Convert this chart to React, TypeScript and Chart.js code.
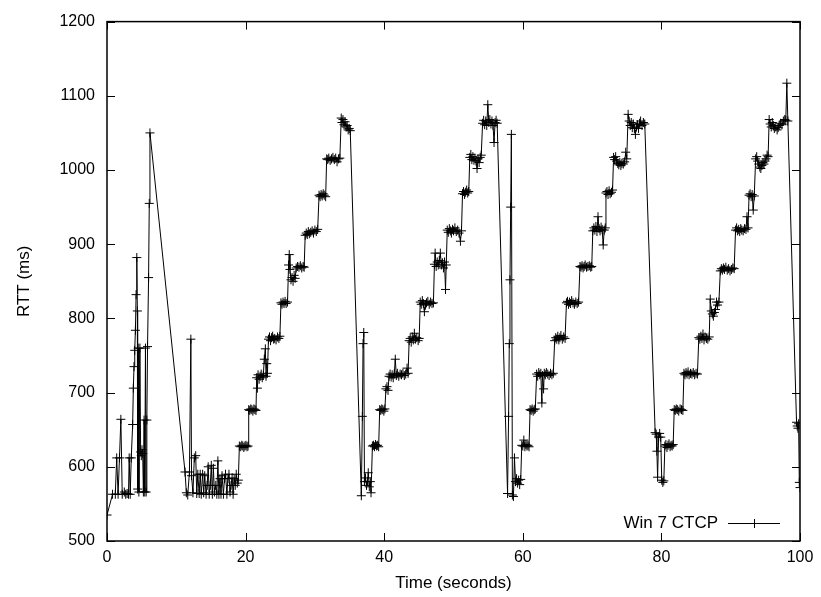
import React, { useEffect, useRef } from 'react';
import { Chart, registerables } from 'chart.js';

Chart.register(...registerables);

const seriesLabel = 'Win 7 CTCP';
const xTickValues = [0, 20, 40, 60, 80, 100];
const yTickValues = [500, 600, 700, 800, 900, 1000, 1100, 1200];
const xTitle = 'Time (seconds)';
const yTitle = 'RTT (ms)';

// [time (s), RTT (ms)]
const startup: [number, number][] = [
  [0, 535], [0.8, 563], [1.2, 563], [1.4, 612], [1.6, 563], [1.8, 612], [2.0, 664], [2.2, 563],
  [2.5, 566], [2.7, 563], [2.9, 564], [3.1, 563], [3.2, 612], [3.35, 563], [3.5, 612], [3.7, 657],
  [3.8, 706], [3.9, 735], [4.0, 757], [4.1, 784], [4.2, 832], [4.3, 882], [4.38, 810], [4.42, 570],
  [4.5, 760], [4.6, 566], [4.75, 760], [4.85, 620], [4.95, 615], [5.05, 623], [5.15, 618], [5.25, 566],
  [5.35, 663], [5.45, 566], [5.55, 760], [5.65, 566], [5.75, 663], [5.85, 762], [6.0, 855], [6.1, 955],
  [6.2, 1050],
];

const lull: [number, number][] = [
  [11.26, 593], [11.45, 565], [11.65, 562], [11.9, 593], [12.1, 772], [12.2, 588], [12.4, 565], [12.6, 612],
  [12.8, 615], [12.95, 564], [13.1, 590], [13.3, 564], [13.45, 590], [13.6, 563], [13.8, 590], [13.95, 565],
  [14.1, 588], [14.3, 563], [14.45, 575], [14.6, 600], [14.75, 563], [14.9, 575], [15.05, 602], [15.2, 563],
  [15.35, 598], [15.5, 566], [15.7, 575], [15.85, 563], [16.0, 608], [16.15, 563], [16.3, 584], [16.45, 563],
  [16.6, 588], [16.8, 563], [16.95, 584], [17.1, 590], [17.3, 563], [17.45, 584], [17.6, 590], [17.75, 566],
  [17.9, 575], [18.05, 585], [18.2, 563], [18.35, 584], [18.5, 575], [18.65, 590], [18.8, 578], [18.95, 582],
];

const cycle1: [number, number][] = [
  [19.1, 628], [19.3, 627], [19.45, 629], [19.6, 628], [19.75, 626], [19.9, 628], [20.05, 629], [20.2, 627], [20.35, 628],
  [20.45, 677], [20.6, 676], [20.75, 678], [20.9, 677], [21.05, 675], [21.2, 678], [21.35, 677], [21.5, 676],
  [21.6, 720], [21.7, 706], [21.8, 724], [21.95, 718], [22.1, 722], [22.25, 725], [22.4, 720], [22.55, 723],
  [22.7, 745], [22.85, 759], [22.95, 722], [23.05, 739], [23.15, 726],
  [23.3, 772], [23.45, 775], [23.6, 770], [23.75, 774], [23.9, 776], [24.05, 772], [24.2, 773], [24.4, 771],
  [24.6, 775], [24.8, 773], [24.95, 776],
  [25.1, 821], [25.25, 819], [25.4, 822], [25.55, 820], [25.7, 823], [25.85, 820], [26.05, 822],
  [26.2, 872], [26.3, 886], [26.4, 866], [26.55, 852], [26.7, 855], [26.85, 850], [27.0, 858], [27.15, 854],
  [27.3, 868], [27.5, 870], [27.7, 869], [27.9, 871], [28.1, 868], [28.3, 870], [28.45, 869],
  [28.6, 912], [28.75, 915], [28.9, 913], [29.05, 917], [29.2, 914], [29.4, 916], [29.6, 918], [29.8, 915],
  [30.0, 919], [30.2, 917], [30.4, 920],
  [30.6, 966], [30.75, 964], [30.9, 967], [31.05, 965], [31.2, 968], [31.35, 966], [31.55, 964],
  [31.7, 1015], [31.85, 1014], [32.0, 1016], [32.2, 1013], [32.4, 1015], [32.6, 1017], [32.8, 1014], [33.0, 1016],
  [33.2, 1011], [33.4, 1015], [33.6, 1016],
  [33.8, 1070], [33.9, 1064], [34.05, 1068], [34.2, 1061], [34.35, 1065], [34.5, 1058], [34.65, 1060], [34.8, 1054],
  [34.95, 1056], [35.1, 1053],
  [36.7, 561], [36.85, 668], [36.95, 766], [37.05, 781], [37.15, 580], [37.3, 585], [37.45, 575], [37.6, 580],
  [37.7, 592], [37.85, 573], [38.0, 580], [38.1, 565],
];

const cycle2: [number, number][] = [
  [38.3, 628], [38.45, 629], [38.6, 627], [38.75, 630], [38.9, 628], [39.05, 629], [39.2, 627],
  [39.35, 677], [39.5, 676], [39.65, 678], [39.8, 677], [39.95, 675], [40.1, 678],
  [40.25, 705], [40.4, 708], [40.55, 703], [40.7, 722], [40.85, 725], [41.0, 721], [41.15, 724], [41.3, 720],
  [41.45, 725], [41.6, 745], [41.75, 723], [41.9, 726], [42.1, 722], [42.3, 725], [42.5, 724], [42.7, 726],
  [42.9, 723], [43.1, 725], [43.3, 733], [43.45, 726],
  [43.6, 770], [43.75, 773], [43.9, 768], [44.05, 775], [44.2, 771], [44.35, 780], [44.5, 772], [44.7, 774],
  [44.9, 770], [45.05, 773],
  [45.2, 822], [45.35, 819], [45.5, 824], [45.65, 820], [45.8, 809], [45.95, 818], [46.1, 821], [46.3, 823],
  [46.5, 819], [46.7, 822], [46.9, 820], [47.1, 821],
  [47.25, 873], [47.35, 888], [47.5, 870], [47.65, 876], [47.8, 872], [47.95, 878], [48.1, 888], [48.25, 872],
  [48.4, 875], [48.55, 868], [48.7, 876], [48.85, 839], [48.95, 872],
  [49.1, 919], [49.25, 916], [49.4, 921], [49.55, 918], [49.7, 915], [49.85, 920], [50.0, 918], [50.2, 922],
  [50.4, 917], [50.6, 919], [50.8, 915], [51.0, 904], [51.15, 918],
  [51.3, 968], [51.45, 971], [51.6, 967], [51.75, 970], [51.9, 973], [52.05, 969], [52.2, 971],
  [52.35, 1017], [52.5, 1021], [52.65, 1014], [52.8, 1018], [52.95, 1013], [53.1, 1016], [53.25, 1012], [53.4, 1002],
  [53.55, 1015], [53.7, 1010], [53.85, 1017], [54.0, 1020],
  [54.2, 1063], [54.35, 1067], [54.5, 1061], [54.65, 1066], [54.8, 1060], [54.95, 1088], [55.1, 1064], [55.25, 1068],
  [55.4, 1062], [55.55, 1066], [55.7, 1060], [55.85, 1037], [56.0, 1064], [56.15, 1067], [56.3, 1063],
  [57.8, 564], [57.95, 668], [58.05, 766], [58.15, 852], [58.25, 950], [58.35, 1048], [58.5, 562], [58.65, 560],
  [58.8, 612], [58.95, 580], [59.1, 584], [59.25, 578], [59.4, 582], [59.55, 576], [59.7, 583],
];

const cycle3: [number, number][] = [
  [59.85, 629], [60.0, 628], [60.15, 636], [60.3, 627], [60.45, 630], [60.6, 628], [60.75, 629], [60.9, 627],
  [61.05, 677], [61.2, 676], [61.35, 678], [61.5, 675], [61.65, 677], [61.8, 678],
  [62.0, 725], [62.15, 722], [62.3, 727], [62.45, 724], [62.6, 726], [62.75, 686], [62.85, 723], [63.0, 705],
  [63.1, 726], [63.25, 724], [63.4, 727], [63.6, 725], [63.8, 723], [64.0, 726], [64.2, 724], [64.4, 726],
  [64.6, 770], [64.75, 774], [64.9, 772], [65.05, 776], [65.2, 771], [65.35, 774], [65.5, 777], [65.7, 772],
  [65.9, 775], [66.1, 773],
  [66.3, 821], [66.45, 823], [66.6, 819], [66.75, 822], [66.9, 820], [67.05, 824], [67.25, 821], [67.45, 819],
  [67.65, 822], [67.85, 820], [68.05, 822],
  [68.25, 870], [68.4, 869], [68.55, 871], [68.7, 868], [68.85, 870], [69.0, 872], [69.2, 869], [69.4, 870],
  [69.6, 871], [69.8, 869], [69.95, 870],
  [70.1, 918], [70.25, 922], [70.4, 919], [70.55, 924], [70.7, 917], [70.85, 937], [71.0, 921], [71.15, 918],
  [71.3, 923], [71.45, 920], [71.6, 899], [71.75, 919], [71.9, 922],
  [72.0, 969], [72.15, 971], [72.3, 967], [72.45, 972], [72.6, 968], [72.8, 970], [72.95, 973],
  [73.1, 1017], [73.25, 1014], [73.4, 1018], [73.55, 1012], [73.7, 1009], [73.85, 1007], [74.0, 1010], [74.15, 1006],
  [74.3, 1009], [74.5, 1008], [74.7, 1011], [74.85, 1024], [75.0, 1015],
  [75.2, 1075], [75.35, 1066], [75.5, 1060], [75.65, 1064], [75.8, 1057], [75.95, 1062], [76.1, 1056], [76.25, 1048],
  [76.4, 1058], [76.55, 1061], [76.7, 1056], [76.85, 1063], [77.0, 1066], [77.2, 1060], [77.4, 1064], [77.6, 1062],
  [79.1, 646], [79.25, 644], [79.35, 621], [79.45, 586], [79.6, 640], [79.75, 645], [79.9, 640], [80.05, 582],
  [80.2, 579], [80.35, 581],
];

const cycle4: [number, number][] = [
  [80.5, 628], [80.65, 630], [80.8, 626], [80.95, 629], [81.1, 631], [81.25, 627], [81.4, 629], [81.55, 628], [81.7, 630],
  [81.85, 677], [82.0, 676], [82.15, 678], [82.3, 677], [82.5, 675], [82.7, 678], [82.9, 677], [83.1, 676],
  [83.25, 726], [83.4, 724], [83.55, 727], [83.7, 725], [83.85, 728], [84.0, 724], [84.2, 726], [84.4, 725],
  [84.6, 727], [84.8, 724], [85.0, 726], [85.2, 725],
  [85.4, 774], [85.55, 772], [85.7, 776], [85.85, 773], [86.0, 779], [86.15, 771], [86.3, 775], [86.5, 773],
  [86.7, 772], [86.9, 775],
  [87.05, 826], [87.2, 810], [87.35, 806], [87.5, 803], [87.65, 808], [87.8, 812], [87.95, 822], [88.1, 818], [88.3, 822],
  [88.5, 864], [88.65, 867], [88.8, 865], [88.95, 868], [89.1, 866], [89.3, 869], [89.5, 865], [89.7, 867],
  [89.9, 864], [90.1, 866], [90.3, 868], [90.5, 867],
  [90.7, 919], [90.85, 922], [91.0, 918], [91.15, 920], [91.3, 917], [91.45, 921], [91.6, 919], [91.8, 918],
  [92.0, 921], [92.2, 920], [92.35, 937], [92.5, 922],
  [92.65, 966], [92.8, 968], [92.95, 964], [93.1, 967], [93.25, 946], [93.4, 965],
  [93.6, 1015], [93.75, 1018], [93.9, 1012], [94.05, 1008], [94.2, 1004], [94.35, 1002], [94.5, 1006], [94.65, 1010],
  [94.8, 1008], [94.95, 1012], [95.1, 1015], [95.25, 1020], [95.4, 1018],
  [95.55, 1068], [95.7, 1062], [95.85, 1058], [96.0, 1064], [96.15, 1060], [96.3, 1056], [96.5, 1058], [96.7, 1054],
  [96.85, 1057], [97.0, 1060], [97.2, 1063], [97.4, 1061], [97.6, 1066], [97.8, 1068], [97.95, 1067], [98.1, 1117],
  [98.25, 1066],
  [99.5, 660], [99.6, 655], [99.7, 652], [99.8, 658], [99.9, 579], [100, 572],
];

const FONT = '"Liberation Sans", Arial, Helvetica, sans-serif';

const framePlugin = {
  id: 'gnuplotFrame',
  afterDatasetsDraw(chart: any) {
    const { ctx, chartArea: a, scales } = chart;
    const tl = 8;
    ctx.save();
    ctx.strokeStyle = '#000';
    ctx.lineWidth = 1;
    ctx.beginPath();
    for (const v of xTickValues) {
      const px = Math.round(scales.x.getPixelForValue(v)) + 0.5;
      ctx.moveTo(px, a.bottom);
      ctx.lineTo(px, a.bottom - tl);
      ctx.moveTo(px, a.top);
      ctx.lineTo(px, a.top + tl);
    }
    for (const v of yTickValues) {
      const py = Math.round(scales.y.getPixelForValue(v)) + 0.5;
      ctx.moveTo(a.left, py);
      ctx.lineTo(a.left + tl, py);
      ctx.moveTo(a.right, py);
      ctx.lineTo(a.right - tl, py);
    }
    ctx.stroke();
    ctx.lineWidth = 1.5;
    ctx.strokeRect(a.left, a.top, a.right - a.left, a.bottom - a.top);

    // legend (bottom right, gnuplot style)
    const ly = a.bottom - 18;
    const lx1 = a.right - 72;
    const lx2 = a.right - 20;
    ctx.font = `17px ${FONT}`;
    ctx.fillStyle = '#000';
    ctx.textAlign = 'right';
    ctx.textBaseline = 'middle';
    ctx.fillText(seriesLabel, lx1 - 10, ly);
    ctx.lineWidth = 1;
    ctx.beginPath();
    ctx.moveTo(lx1, ly + 0.5);
    ctx.lineTo(lx2, ly + 0.5);
    const cx = Math.round((lx1 + lx2) / 2) + 0.5;
    ctx.moveTo(cx, ly - 4);
    ctx.lineTo(cx, ly + 5);
    ctx.stroke();
    ctx.restore();
  },
};

export default function App() {
  const ref = useRef<HTMLCanvasElement>(null);
  useEffect(() => {
    document.body.style.margin = '0';
    const points = [...startup, ...lull, ...cycle1, ...cycle2, ...cycle3, ...cycle4].map(([x, y]) => ({ x, y }));
    const chart = new Chart(ref.current as HTMLCanvasElement, {
      type: 'scatter',
      data: {
        datasets: [
          {
            label: seriesLabel,
            data: points,
            showLine: true,
            borderColor: '#000',
            borderWidth: 1,
            pointStyle: 'cross',
            pointRadius: 4.5,
            pointHoverRadius: 4.5,
            pointBorderColor: '#000',
            pointBackgroundColor: '#000',
            pointBorderWidth: 1,
          } as any,
        ],
      },
      options: {
        animation: false,
        responsive: false,
        events: [],
        layout: { padding: { top: 16, right: 21, left: 0, bottom: 0 } },
        plugins: { legend: { display: false }, tooltip: { enabled: false } },
        scales: {
          x: {
            type: 'linear',
            min: 0,
            max: 100,
            afterBuildTicks: (s: any) => {
              s.ticks = xTickValues.map((value) => ({ value }));
            },
            afterFit: (s: any) => {
              s.height = 56;
            },
            grid: { display: false, drawTicks: false },
            border: { display: false },
            ticks: {
              color: '#000',
              padding: 7,
              font: { family: FONT, size: 16 },
              callback: (v: any) => String(v),
            },
            title: {
              display: true,
              text: xTitle,
              color: '#000',
              font: { family: FONT, size: 17 },
              padding: { top: 0, bottom: 3 },
            },
          },
          y: {
            type: 'linear',
            min: 500,
            max: 1200,
            afterBuildTicks: (s: any) => {
              s.ticks = yTickValues.map((value) => ({ value }));
            },
            afterFit: (s: any) => {
              s.width = 107;
            },
            grid: { display: false, drawTicks: false },
            border: { display: false },
            ticks: {
              color: '#000',
              padding: 12,
              font: { family: FONT, size: 16 },
              callback: (v: any) => String(v),
            },
            title: {
              display: true,
              text: yTitle,
              color: '#000',
              font: { family: FONT, size: 17 },
              padding: { top: 14, bottom: 0 },
            },
          },
        },
      },
      plugins: [framePlugin],
    });
    return () => chart.destroy();
  }, []);
  return <canvas ref={ref} width={821} height={597} style={{ display: 'block' }} />;
}
